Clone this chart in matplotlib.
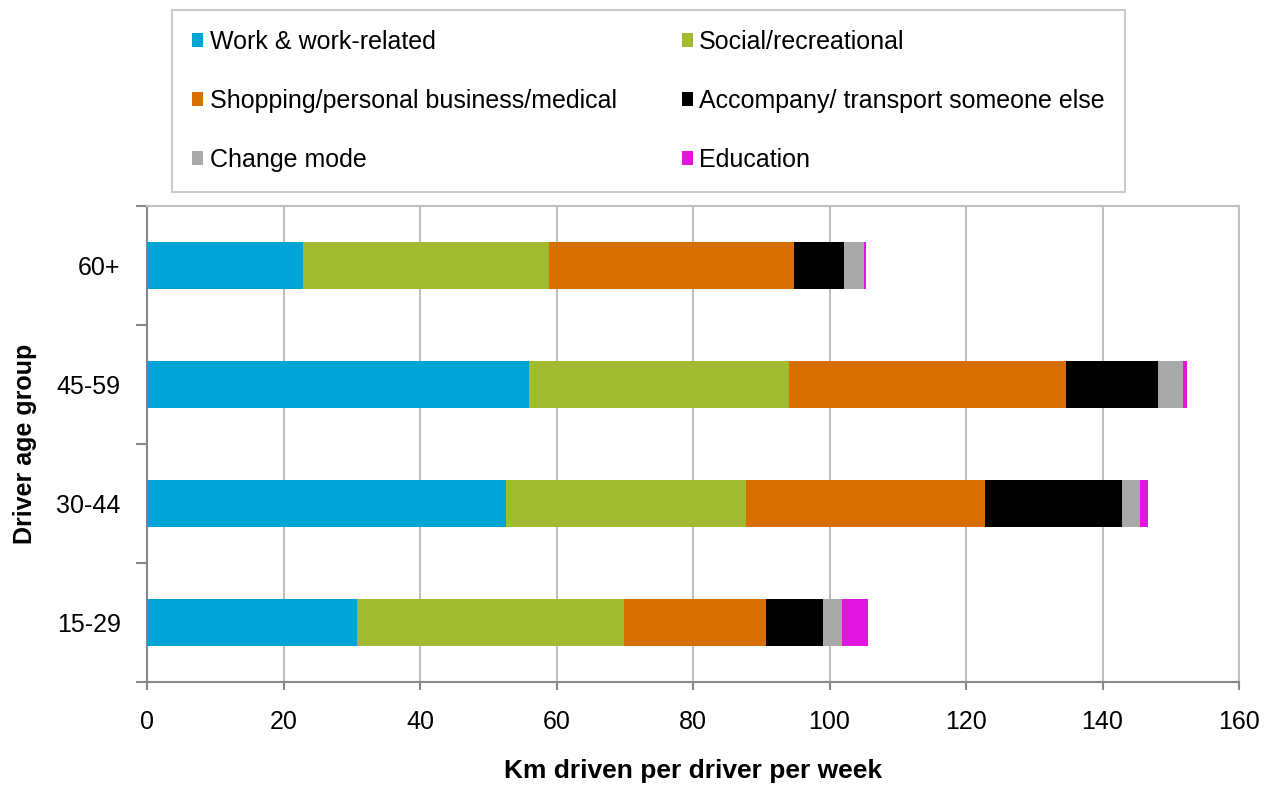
import matplotlib.pyplot as plt
import numpy as np

plt.rcParams['font.family'] = ['Liberation Sans', 'DejaVu Sans']

# data (km per driver per week)
age_groups = ['15-29', '30-44', '45-59', '60+']
purposes = ['Work & work-related', 'Social/recreational',
            'Shopping/personal business/medical', 'Accompany/ transport someone else',
            'Change mode', 'Education']
work = [30.8, 52.6, 55.9, 22.9]
social = [39.1, 35.2, 38.2, 36.0]
shopping = [20.8, 35.0, 40.5, 35.9]
accompany = [8.4, 20.0, 13.5, 7.3]
change_mode = [2.8, 2.7, 3.7, 3.0]
education = [3.7, 1.1, 0.6, 0.3]
colors = ['#00A3D6', '#A1BA2F', '#D76F00', '#000000', '#A9A9A9', '#E016E0']

series = [work, social, shopping, accompany, change_mode, education]

fig = plt.figure(figsize=(12.72, 7.85), dpi=100)
ax = fig.add_axes([147 / 1272, 1 - 682 / 785, (1239 - 147) / 1272, (682 - 206) / 785])

y = np.arange(len(age_groups))
left = np.zeros(len(age_groups))
handles = []
for vals, name, c in zip(series, purposes, colors):
	b = ax.barh(y, vals, left=left, height=0.39, color=c, label=name, zorder=3)
	handles.append(b)
	left += np.array(vals)

ax.set_xlim(0, 160)
ax.set_ylim(-0.5, 3.5)
ax.set_xticks(np.arange(0, 161, 20))
ax.set_yticks(y)
ax.set_yticklabels(age_groups)
ax.set_yticks(np.arange(-0.5, 3.6, 1), minor=True)
ax.tick_params(axis='y', which='major', length=0, pad=19, labelsize=18)
ax.tick_params(axis='y', which='minor', length=8, color='#888888', width=1.5)
ax.tick_params(axis='x', length=6, color='#888888', width=1.5, labelsize=18, pad=14)

ax.grid(axis='x', color='#BFBFBF', linewidth=1.5, zorder=0)
for s in ['top', 'right']:
	ax.spines[s].set_color('#BFBFBF')
	ax.spines[s].set_linewidth(1.5)
for s in ['left', 'bottom']:
	ax.spines[s].set_color('#888888')
	ax.spines[s].set_linewidth(1.5)

ax.set_xlabel('Km driven per driver per week', fontsize=19, fontweight='bold', labelpad=18)
ax.set_ylabel('Driver age group', fontsize=18, fontweight='bold', labelpad=14)

# legend filled column-wise -> reorder so rows read left-to-right
order = [0, 2, 4, 1, 3, 5]
leg = fig.legend([handles[i] for i in order], [purposes[i] for i in order],
                 loc='upper left', bbox_to_anchor=(172 / 1272, 1 - 10 / 785), ncol=2,
                 fontsize=18, frameon=True, fancybox=False, edgecolor='#BFBFBF',
                 handlelength=0.45, handleheight=0.45, handletextpad=0.25,
                 labelspacing=1.4, columnspacing=2.6, borderpad=0.8, borderaxespad=0)
leg.get_frame().set_linewidth(1.5)

fig.savefig('out.png', dpi=100)
